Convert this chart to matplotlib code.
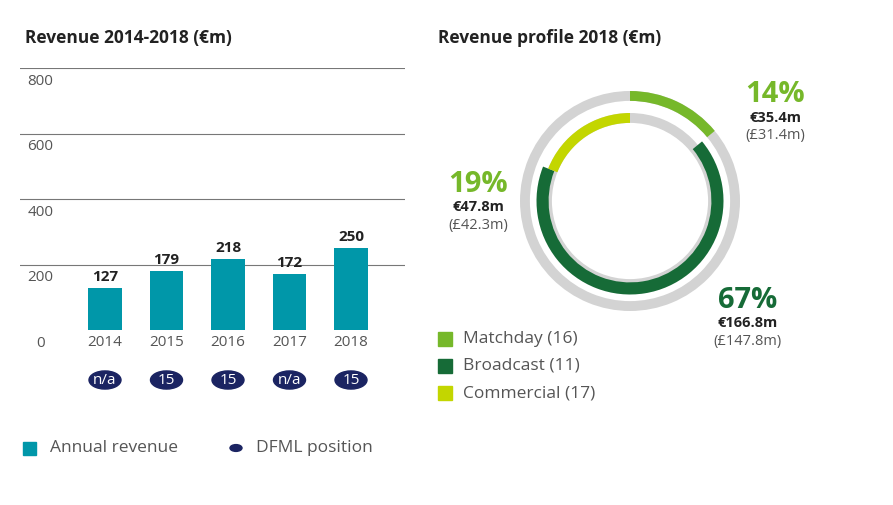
import matplotlib
matplotlib.use('Agg')
import matplotlib.pyplot as plt

years = ['2014', '2015', '2016', '2017', '2018']
revenue = [127, 179, 218, 172, 250]
dfml_pos = ['n/a', '15', '15', 'n/a', '15']
y_ticks = [0, 200, 400, 600, 800]

segments = ['Matchday (16)', 'Broadcast (11)', 'Commercial (17)']
shares = [14, 67, 19]
eur = ['€35.4m', '€166.8m', '€47.8m']
gbp = ['(£31.4m)', '(£147.8m)', '(£42.3m)']

TEAL = '#0097a9'
NAVY = '#1b2462'
C_MATCH = '#76b82a'
C_BROAD = '#166b37'
C_COMM = '#c3d600'
GREY = '#d3d3d3'
TXT = '#555555'

W, H = 893, 505
fig = plt.figure(figsize=(W / 100, H / 100), dpi=100)
plt.rcParams['font.family'] = ['Open Sans', 'DejaVu Sans']


def ft(x, y, s, **kw):
    fig.text(x / W, 1 - y / H, s, **kw)


# bar chart
ax = fig.add_axes([20 / W, (H - 330) / H, 385 / W, 262 / H])
pos = list(range(len(years)))
ax.bar(pos, revenue, width=0.55, color=TEAL, zorder=2)
ax.set_ylim(0, 800)
ax.set_xlim(-85 / 61.5, 300 / 61.5)
for t in y_ticks[1:]:
    ax.axhline(t, color='#777777', lw=0.8, zorder=1)
for s in ax.spines.values():
    s.set_visible(False)
ax.set_xticks([])
ax.set_yticks([])
for p, v in zip(pos, revenue):
    ax.text(p, v + 12, str(v), ha='center', va='bottom', fontsize=11, fontweight='bold', color='#222222')
for t in y_ticks:
    ax.text(-1.05, t - 40, str(t), ha='center', va='center', fontsize=11, color=TXT)
for i, (y, d) in enumerate(zip(years, dfml_pos)):
    x = 105 + 61.5 * i
    ft(x, 343, y, ha='center', va='center', fontsize=11, color=TXT)
    fig.add_artist(plt.Circle((x / W, 1 - 380 / H), 16 / W, transform=fig.transFigure, color=NAVY))
    ft(x, 380, d, ha='center', va='center', fontsize=11, color='white')

ft(25, 38, 'Revenue 2014-2018 (€m)', ha='left', va='center', fontsize=12.5, fontweight='bold', color='#222222')
ft(438, 38, 'Revenue profile 2018 (€m)', ha='left', va='center', fontsize=12.5, fontweight='bold', color='#222222')

# legend left
fig.add_artist(plt.Rectangle((23 / W, 1 - 455 / H), 13 / W, 13 / H, transform=fig.transFigure, color=TEAL))
ft(50, 448, 'Annual revenue', ha='left', va='center', fontsize=12.5, color=TXT)
fig.add_artist(plt.Circle((236 / W, 1 - 448 / H), 6 / W, transform=fig.transFigure, color=NAVY))
ft(256, 448, 'DFML position', ha='left', va='center', fontsize=12.5, color=TXT)

# donut
R = 110
dax = fig.add_axes([(630 - R) / W, (H - 201 - R) / H, 2 * R / W, 2 * R / H])
kw = dict(startangle=90, counterclock=False)
dax.pie([1], colors=[GREY], radius=1.0, wedgeprops=dict(width=0.09), **kw)
dax.pie([1], colors=[GREY], radius=0.8, wedgeprops=dict(width=0.09), **kw)
dax.pie([shares[0], 100 - shares[0]], colors=[C_MATCH, 'none'], radius=1.0,
        wedgeprops=dict(width=0.09), **kw)
dax.pie(shares, colors=['none', C_BROAD, 'none'], radius=0.85,
        wedgeprops=dict(width=0.11), **kw)
dax.pie([100 - shares[2], shares[2]], colors=['none', C_COMM], radius=0.8,
        wedgeprops=dict(width=0.09), **kw)
dax.set_xlim(-1, 1)
dax.set_ylim(-1, 1)
dax.set_aspect('equal')
dax.axis('off')

# donut labels
lab = [(775, 95, C_MATCH), (748, 300, C_BROAD), (478, 184, C_MATCH)]
cols = [C_MATCH, C_BROAD, C_COMM]
for (x, y, _), sh, e, g, c in zip(lab, shares, eur, gbp, cols):
    ft(x, y, f'{sh}%', ha='center', va='center', fontsize=21, fontweight='bold', color=c if c != C_COMM else C_MATCH)
    ft(x, y + 23, e, ha='center', va='center', fontsize=10.5, fontweight='bold', color='#222222')
    ft(x, y + 41, g, ha='center', va='center', fontsize=10.5, color=TXT)

for i, (s, c) in enumerate(zip(segments, cols)):
    y = 339 + 27 * i
    fig.add_artist(plt.Rectangle((438 / W, 1 - (y + 7) / H), 14 / W, 14 / H, transform=fig.transFigure, color=c))
    ft(463, y, s, ha='left', va='center', fontsize=12.5, color=TXT)

fig.savefig('out.png', dpi=100)
